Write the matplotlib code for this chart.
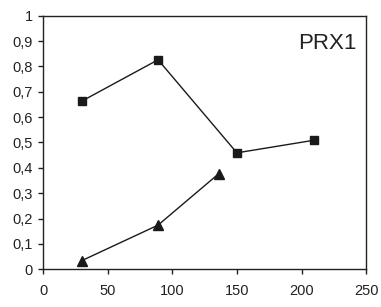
import matplotlib
matplotlib.use('Agg')
import matplotlib.pyplot as plt
from matplotlib.ticker import FuncFormatter

plt.rcParams['font.family'] = ['Liberation Sans', 'DejaVu Sans']

# datos
x_sq = [30, 89, 150, 210]
y_sq = [0.663, 0.826, 0.459, 0.509]
x_tri = [30, 89, 136]
y_tri = [0.034, 0.174, 0.377]

fig = plt.figure(figsize=(3.81, 3.07), dpi=100)
ax = fig.add_axes([0.113, 0.123, 0.848, 0.826])

ax.plot(x_sq, y_sq, color='#1a1a1a', lw=1.0, marker='s', ms=5.8,
        mfc='#1a1a1a', mec='#1a1a1a')
ax.plot(x_tri, y_tri, color='#1a1a1a', lw=1.0, marker='^', ms=7.5,
        mfc='#1a1a1a', mec='#1a1a1a')

ax.set_xlim(0, 250)
ax.set_ylim(0, 1)
ax.set_xticks([0, 50, 100, 150, 200, 250])
ax.set_yticks([i / 10 for i in range(11)])
ax.yaxis.set_major_formatter(FuncFormatter(
    lambda v, p: '0' if v == 0 else ('1' if v == 1 else f'{v:.1f}'.replace('.', ','))))
ax.tick_params(direction='out', length=3.5, width=1, labelsize=10.5, colors='#222222')
ax.tick_params(axis='x', pad=7)
ax.tick_params(axis='y', pad=4)
for s in ax.spines.values():
    s.set_linewidth(1.0)
    s.set_color('#222222')

ax.text(0.97, 0.89, 'PRX1', transform=ax.transAxes, ha='right', va='center',
        fontsize=16, color='#222222')

fig.savefig('out.png', dpi=100)
